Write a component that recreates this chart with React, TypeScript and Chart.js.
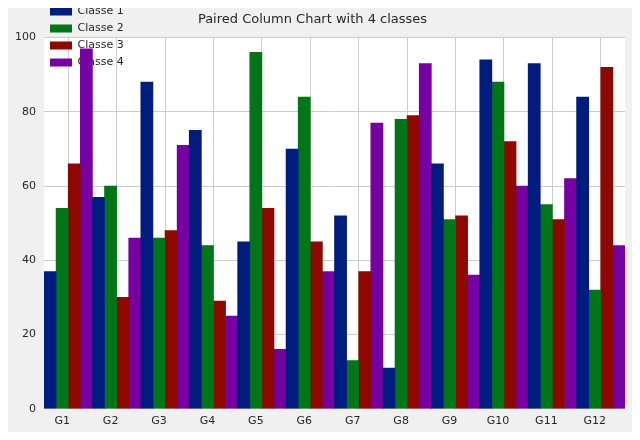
import React, { useEffect, useRef } from 'react';
import Chart from 'chart.js/auto';

const groups = ['G1', 'G2', 'G3', 'G4', 'G5', 'G6', 'G7', 'G8', 'G9', 'G10', 'G11', 'G12'];
const classe1 = [37, 57, 88, 75, 45, 70, 52, 11, 66, 94, 93, 84];
const classe2 = [54, 60, 46, 44, 96, 84, 13, 78, 51, 88, 55, 32];
const classe3 = [66, 30, 48, 29, 54, 45, 37, 79, 52, 72, 51, 92];
const classe4 = [97, 46, 71, 25, 16, 37, 77, 93, 36, 60, 62, 44];
const yTicks = [0, 20, 40, 60, 80, 100];

const colors = ['#001c7f', '#017517', '#8c0800', '#7600a1'];

const bgPlugin = {
  id: 'bg',
  beforeDraw(chart: any) {
    const { ctx, chartArea: a } = chart;
    ctx.save();
    ctx.fillStyle = '#f0f0f0';
    ctx.fillRect(0, 0, chart.width, chart.height);
    ctx.fillStyle = '#ffffff';
    ctx.fillRect(a.left, a.top, a.right - a.left, a.bottom - a.top);
    ctx.restore();
  },
};

const App: React.FC = () => {
  const ref = useRef<HTMLCanvasElement | null>(null);
  useEffect(() => {
    if (!ref.current) return;
    const series = [classe1, classe2, classe3, classe4];
    const chart = new Chart(ref.current, {
      type: 'bar',
      data: {
        labels: groups,
        datasets: series.map((d, i) => ({
          label: `Classe ${i + 1}`,
          data: d,
          backgroundColor: colors[i],
          borderWidth: 0,
          categoryPercentage: 1,
          barPercentage: 1,
        })),
      },
      plugins: [bgPlugin],
      options: {
        animation: false,
        responsive: false,
        layout: { padding: { left: 0, right: 15, top: 0, bottom: 6 } },
        font: { family: 'DejaVu Sans' },
        plugins: {
          title: {
            display: true,
            text: 'Paired Column Chart with 4 classes',
            color: '#262626',
            font: { family: 'DejaVu Sans', size: 13, weight: 'normal' },
            padding: { top: 12, bottom: 10 },
          },
          legend: {
            position: 'chartArea' as any,
            align: 'start',
            labels: {
              boxWidth: 22,
              boxHeight: 8,
              color: '#262626',
              font: { family: 'DejaVu Sans', size: 11 },
              padding: 6,
            },
          },
          tooltip: { enabled: false },
        },
        scales: {
          x: {
            grid: { color: '#cccccc', offset: false, drawTicks: false },
            border: { display: false },
            ticks: { color: '#262626', font: { family: 'DejaVu Sans', size: 11 }, padding: 6, labelOffset: -6 },
          },
          y: {
            min: 0,
            max: 100,
            afterBuildTicks: (s: any) => { s.ticks = yTicks.map((v) => ({ value: v })); },
            afterFit: (s: any) => { s.width = 44; },
            grid: { color: '#cccccc', drawTicks: false },
            border: { display: false },
            ticks: { color: '#262626', font: { family: 'DejaVu Sans', size: 11 }, padding: 8 },
          },
        },
      },
    });
    return () => chart.destroy();
  }, []);
  return <canvas ref={ref} width={640} height={440} style={{ display: 'block', margin: -8 }} />;
};

export default App;
